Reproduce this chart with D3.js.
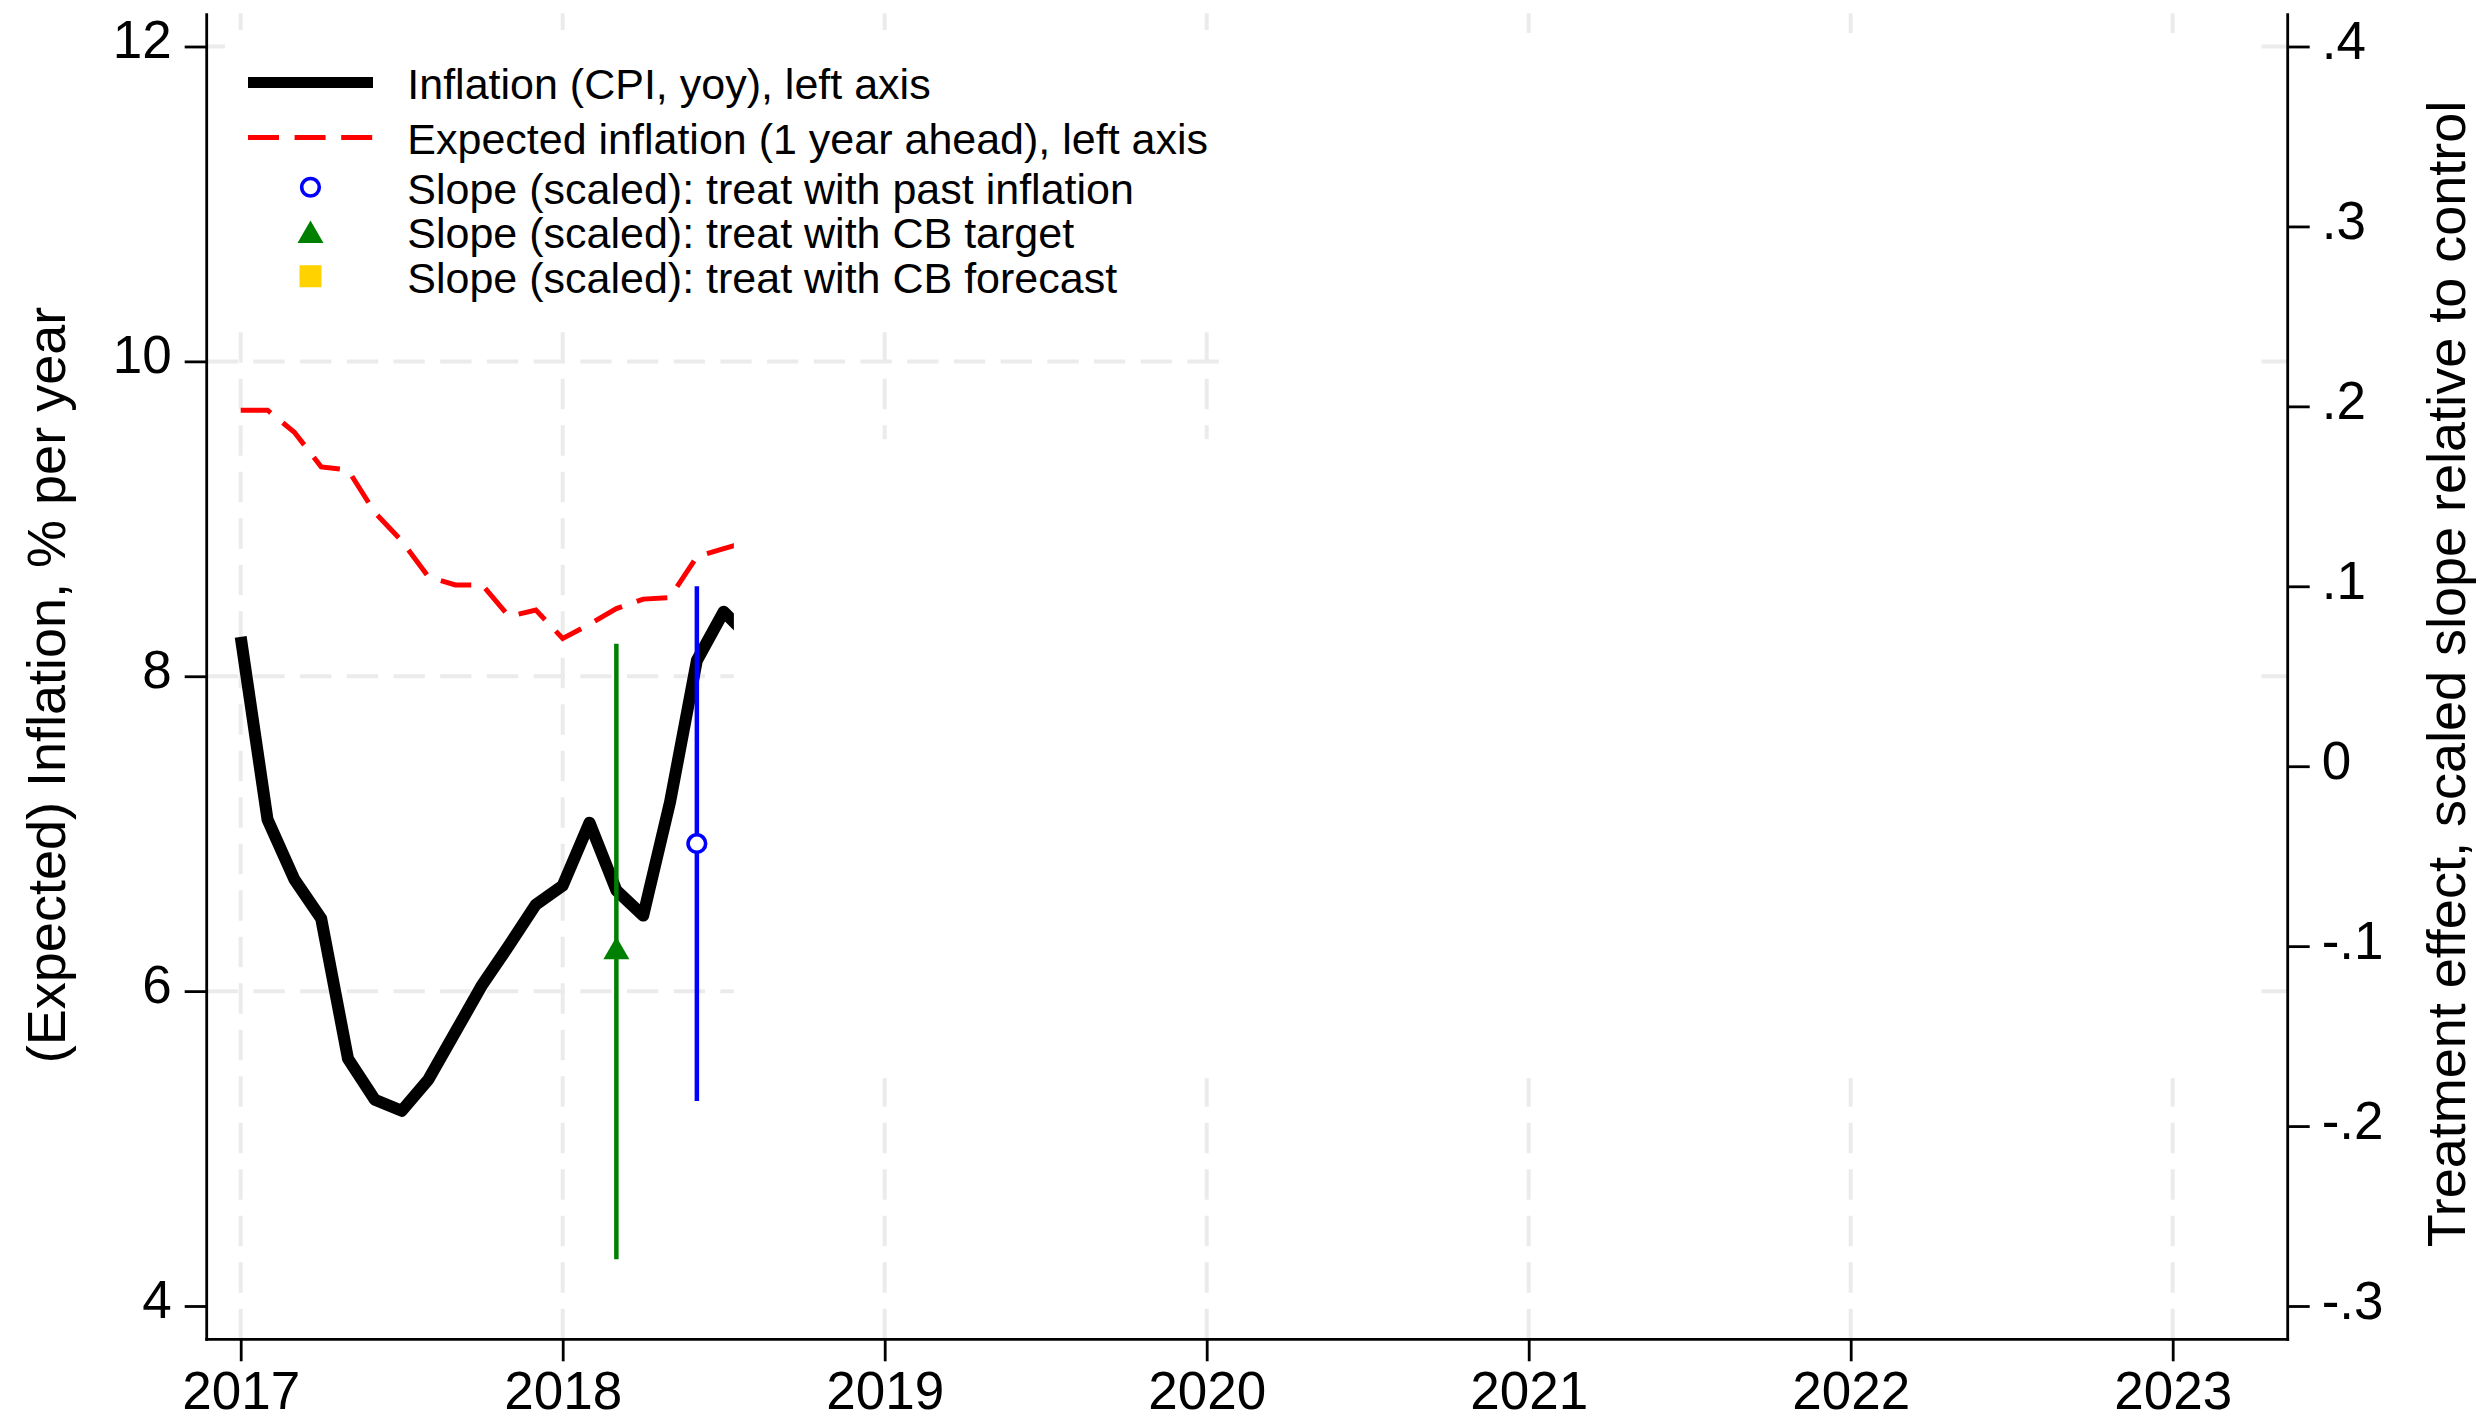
<!DOCTYPE html>
<html>
<head>
<meta charset="utf-8">
<script src="https://cdn.jsdelivr.net/npm/d3@7/dist/d3.min.js"></script>
<style>
  html, body { margin: 0; padding: 0; background: #ffffff; }
  svg { display: block; }
  text { font-family: "Liberation Sans", Arial, Helvetica, sans-serif; fill: #000000; }
</style>
</head>
<body>
<svg id="chart" width="2492" height="1421"></svg>
<script>
// ---- data -------------------------------------------------------------
// Monthly observations, Jan 2017 onwards
const months = [
  "2017-01", "2017-02", "2017-03", "2017-04", "2017-05", "2017-06",
  "2017-07", "2017-08", "2017-09", "2017-10", "2017-11", "2017-12",
  "2018-01", "2018-02", "2018-03", "2018-04", "2018-05", "2018-06",
  "2018-07", "2018-08"
];
// CPI inflation, year on year, % (left axis)
const cpiInflation = [
  8.25, 7.09, 6.71, 6.46, 5.57, 5.31,
  5.24, 5.44, 5.74, 6.04, 6.29, 6.55,
  6.67, 7.07, 6.64, 6.48, 7.20, 8.10,
  8.41, 8.24
];
// Expected inflation one year ahead, % (left axis)
const expectedInflation = [
  9.69, 9.69, 9.55, 9.33, 9.31, 9.04,
  8.86, 8.63, 8.58, 8.58, 8.38, 8.42,
  8.24, 8.33, 8.43, 8.49, 8.50, 8.76,
  8.81, 8.86
];
// Scaled treatment-effect slopes with confidence bands (right axis)
const slopePastInflation = [
  { month: "2018-06", estimate: -0.043, lower: -0.186, upper: 0.100 }
];
const slopeCbTarget = [
  { month: "2018-03", estimate: -0.101, lower: -0.274, upper: 0.068 }
];
const slopeCbForecast = [];

const yearTicks = [2017, 2018, 2019, 2020, 2021, 2022, 2023];
const leftTicks = [4, 6, 8, 10, 12];
const leftGridValues = [6, 8, 10, 12];
const rightTicks = [-0.3, -0.2, -0.1, 0, 0.1, 0.2, 0.3, 0.4];
const rightTickLabels = ["-.3", "-.2", "-.1", "0", ".1", ".2", ".3", ".4"];

const legendLabels = [
  "Inflation (CPI, yoy), left axis",
  "Expected inflation (1 year ahead), left axis",
  "Slope (scaled): treat with past inflation",
  "Slope (scaled): treat with CB target",
  "Slope (scaled): treat with CB forecast"
];
const leftTitle = "(Expected) Inflation, % per year";
const rightTitle = "Treatment effect, scaled slope relative to control";

// ---- layout -------------------------------------------------------------
const frame = { left: 206.7, right: 2287.7, top: 13.3, bottom: 1339.3 };
const tickFont = 53, titleFont = 54, legendFont = 43;
const gridColor = "#ebebeb";
const colors = { cpi: "#000000", expected: "#ff0000", past: "#0000ff", target: "#008000", forecast: "#ffd200" };

const toYear = m => { const [y, mo] = m.split("-").map(Number); return y + (mo - 1) / 12; };

const x = d3.scaleLinear().domain([2017, 2023]).range([240.7, 2172.7]);
const yL = d3.scaleLinear().domain([4, 12]).range([1306, 46.5]);
const yR = d3.scaleLinear().domain([-0.3, 0.4]).range([1306, 46.5]);

const svg = d3.select("#chart");
svg.append("rect").attr("width", 2492).attr("height", 1421).attr("fill", "#ffffff");

// ---- grid -----------------------------------------------------------------
const grid = svg.append("g").attr("stroke", gridColor).attr("stroke-width", 4).attr("fill", "none");
grid.selectAll("line.v").data(yearTicks).join("line")
  .attr("class", "v")
  .attr("x1", d => x(d)).attr("x2", d => x(d))
  .attr("y1", frame.bottom).attr("y2", frame.top)
  .attr("stroke-dasharray", "30.5,16");
grid.selectAll("line.h").data(leftGridValues).join("line")
  .attr("class", "h")
  .attr("x1", frame.left).attr("x2", frame.right)
  .attr("y1", d => yL(d)).attr("y2", d => yL(d))
  .attr("stroke-dasharray", "31.3,15.4");

// ---- series -------------------------------------------------------------
const cpiRows = months.map((m, i) => ({ t: toYear(m), v: cpiInflation[i] }));
const expRows = months.map((m, i) => ({ t: toYear(m), v: expectedInflation[i] }));
const line = d3.line().x(d => x(d.t)).y(d => yL(d.v));

svg.append("path").datum(expRows)
  .attr("d", line).attr("fill", "none")
  .attr("stroke", colors.expected).attr("stroke-width", 5)
  .attr("stroke-dasharray", "31,15.6");

svg.append("path").datum(cpiRows)
  .attr("d", line).attr("fill", "none")
  .attr("stroke", colors.cpi).attr("stroke-width", 12)
  .attr("stroke-linejoin", "round").attr("stroke-linecap", "butt");

// confidence bands of the scaled slopes
function drawSlope(rows, color, shape) {
  const g = svg.append("g");
  g.selectAll("line").data(rows).join("line")
    .attr("x1", d => x(toYear(d.month))).attr("x2", d => x(toYear(d.month)))
    .attr("y1", d => yR(d.lower)).attr("y2", d => yR(d.upper))
    .attr("stroke", color).attr("stroke-width", 4.5);
  g.selectAll("path").data(rows).join("path")
    .attr("transform", d => `translate(${x(toYear(d.month))},${yR(d.estimate)})`)
    .attr("d", shape.d)
    .attr("fill", shape.fill(color)).attr("stroke", shape.stroke(color))
    .attr("stroke-width", shape.sw);
}
const circleShape = {
  d: d3.arc()({ innerRadius: 0, outerRadius: 8.8, startAngle: 0, endAngle: 2 * Math.PI }),
  fill: () => "#ffffff", stroke: c => c, sw: 3.6
};
const triangleShape = {
  d: "M0,-11.3 L13,11.3 L-13,11.3 Z",
  fill: c => c, stroke: () => "none", sw: 0
};
const squareShape = {
  d: "M-11,-11 H11 V11 H-11 Z",
  fill: c => c, stroke: () => "none", sw: 0
};
drawSlope(slopeCbTarget, colors.target, triangleShape);
drawSlope(slopePastInflation, colors.past, circleShape);
drawSlope(slopeCbForecast, colors.forecast, squareShape);

// ---- periods not yet shown: blank panels over the later years -------------
const coverPanels = [
  { from: 2018 + 6.38 / 12, to: 2020 + 1 / 12, top: 9.506, bottom: 5.447 },
  { from: 2020 + 1 / 12, to: 2023 + 3.1 / 12, top: 12.086, bottom: 5.447 }
];
svg.append("g").selectAll("rect").data(coverPanels).join("rect")
  .attr("x", d => x(d.from)).attr("width", d => x(d.to) - x(d.from))
  .attr("y", d => yL(d.top)).attr("height", d => yL(d.bottom) - yL(d.top))
  .attr("fill", "#ffffff");

// ---- axes -------------------------------------------------------------------
const axisStroke = 2.8;
function styleAxis(g) {
  g.select(".domain").remove();
  g.selectAll(".tick line").attr("stroke", "#000").attr("stroke-width", axisStroke);
  g.selectAll(".tick text").attr("fill", "#000").attr("font-size", tickFont)
    .attr("font-family", "'Liberation Sans', Arial, sans-serif");
}

const gLeft = svg.append("g").attr("transform", `translate(${frame.left},0)`)
  .call(d3.axisLeft(yL).tickValues(leftTicks).tickFormat(d3.format("d")).tickSize(22).tickPadding(13))
  .call(styleAxis);
gLeft.selectAll(".tick text").attr("dy", "0.21em");

const gRight = svg.append("g").attr("transform", `translate(${frame.right},0)`)
  .call(d3.axisRight(yR).tickValues(rightTicks)
    .tickFormat((d, i) => rightTickLabels[i]).tickSize(22).tickPadding(12))
  .call(styleAxis);
gRight.selectAll(".tick text").attr("dy", "0.23em");

const gBottom = svg.append("g").attr("transform", `translate(0,${frame.bottom})`)
  .call(d3.axisBottom(x).tickValues(yearTicks).tickFormat(d3.format("d")).tickSize(22).tickPadding(10.5))
  .call(styleAxis);

// axis lines
const axisLines = svg.append("g").attr("stroke", "#000").attr("stroke-width", axisStroke);
axisLines.append("line").attr("x1", frame.left).attr("x2", frame.left).attr("y1", frame.top).attr("y2", frame.bottom + axisStroke / 2);
axisLines.append("line").attr("x1", frame.right).attr("x2", frame.right).attr("y1", frame.top).attr("y2", frame.bottom + axisStroke / 2);
axisLines.append("line").attr("x1", frame.left - axisStroke / 2).attr("x2", frame.right + axisStroke / 2).attr("y1", frame.bottom).attr("y2", frame.bottom);

// axis titles
svg.append("text")
  .attr("transform", `translate(65,685) rotate(-90)`)
  .attr("text-anchor", "middle").attr("font-size", titleFont)
  .text(leftTitle);
svg.append("text")
  .attr("transform", `translate(2465,674) rotate(-90)`)
  .attr("text-anchor", "middle").attr("font-size", titleFont)
  .text(rightTitle);

// ---- legend ---------------------------------------------------------------
const legendKeys = [
  { kind: "line", color: colors.cpi, width: 11, dash: null },
  { kind: "line", color: colors.expected, width: 5, dash: "31,15.6" },
  { kind: "marker", color: colors.past, shape: circleShape },
  { kind: "marker", color: colors.target, shape: triangleShape },
  { kind: "marker", color: colors.forecast, shape: squareShape }
];
const rowHeight = k => (k.kind === "line" ? 55 : 44.5);
const legendLeft = 225, legendTop = 30, pad = { top: 25, left: 23, right: 25, bottom: 29 };
const keyWidth = 125, textX = legendLeft + pad.left + keyWidth + 34.3;

let cursor = legendTop + pad.top;
const rowCenters = legendKeys.map((k, i) => {
  if (i > 0) cursor += (rowHeight(legendKeys[i - 1]) + rowHeight(k)) / 2;
  else cursor += rowHeight(k) / 2;
  return cursor;
});
const legendBottom = rowCenters[rowCenters.length - 1] + rowHeight(legendKeys[legendKeys.length - 1]) / 2 + pad.bottom;

const legend = svg.append("g");
const legendBox = legend.append("rect").attr("fill", "#ffffff");
const rows = legend.selectAll("g.row").data(legendKeys).join("g")
  .attr("class", "row")
  .attr("transform", (d, i) => `translate(0,${rowCenters[i]})`);

rows.each(function (k, i) {
  const g = d3.select(this);
  const kx0 = legendLeft + pad.left, kx1 = kx0 + keyWidth;
  if (k.kind === "line") {
    g.append("line").attr("x1", kx0).attr("x2", kx1).attr("y1", 0).attr("y2", 0)
      .attr("stroke", k.color).attr("stroke-width", k.width)
      .attr("stroke-dasharray", k.dash);
  } else {
    g.append("path").attr("transform", `translate(${(kx0 + kx1) / 2},0)`)
      .attr("d", k.shape.d)
      .attr("fill", k.shape.fill(k.color)).attr("stroke", k.shape.stroke(k.color))
      .attr("stroke-width", k.shape.sw);
  }
  g.append("text").attr("x", textX).attr("y", 0).attr("dy", "0.38em")
    .attr("font-size", legendFont).text(legendLabels[i]);
});

let maxText = 0;
rows.selectAll("text").each(function () { maxText = Math.max(maxText, this.getComputedTextLength()); });
legendBox.attr("x", legendLeft).attr("y", legendTop)
  .attr("width", textX + maxText + pad.right - legendLeft)
  .attr("height", legendBottom - legendTop);
</script>
</body>
</html>
